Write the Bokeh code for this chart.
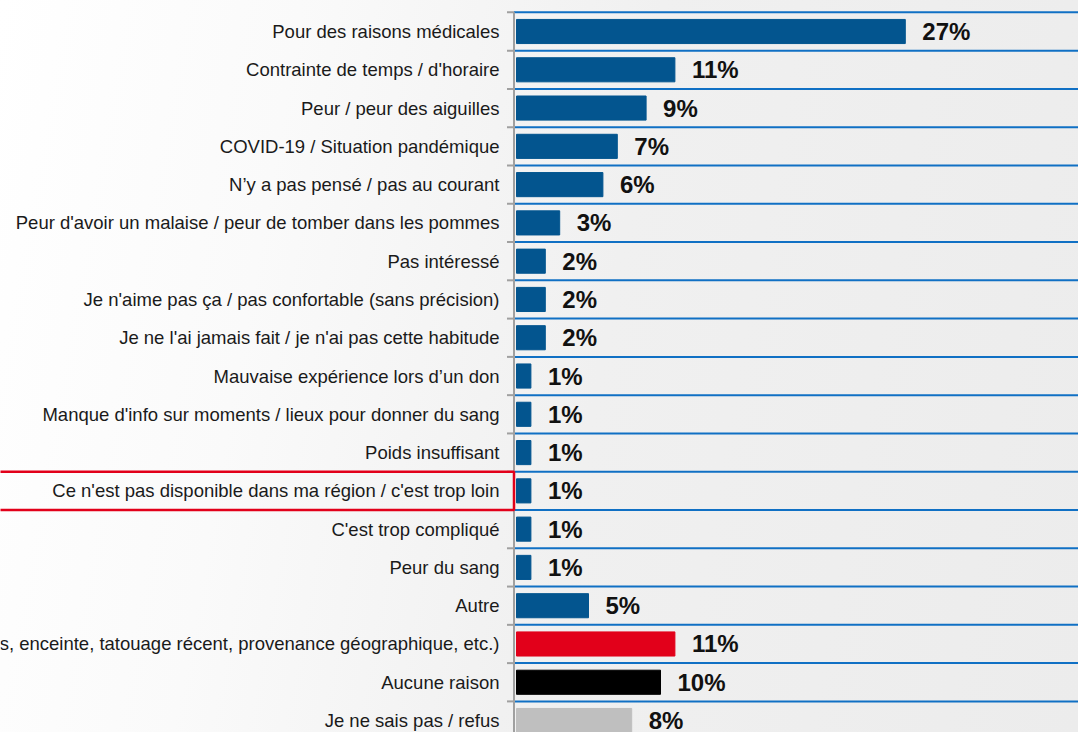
from bokeh.plotting import figure
from bokeh.models import ColumnDataSource, Range1d, InlineStyleSheet
from bokeh.core.properties import value
from bokeh.embed import file_html
from bokeh.resources import INLINE

# ---------------- data ----------------
categories = [
    "Pour des raisons médicales",
    "Contrainte de temps / d'horaire",
    "Peur / peur des aiguilles",
    "COVID-19 / Situation pandémique",
    "N\u2019y a pas pensé / pas au courant",
    "Peur d'avoir un malaise / peur de tomber dans les pommes",
    "Pas intéressé",
    "Je n'aime pas ça / pas confortable (sans précision)",
    "Je ne l'ai jamais fait / je n'ai pas cette habitude",
    "Mauvaise expérience lors d\u2019un don",
    "Manque d'info sur moments / lieux pour donner du sang",
    "Poids insuffisant",
    "Ce n'est pas disponible dans ma région / c'est trop loin",
    "C'est trop compliqué",
    "Peur du sang",
    "Autre",
    "Non admissible (médicaments, enceinte, tatouage récent, provenance géographique, etc.)",
    "Aucune raison",
    "Je ne sais pas / refus",
]
percent = [27, 11, 9, 7, 6, 3, 2, 2, 2, 1, 1, 1, 1, 1, 1, 5, 11, 10, 8]
groups = ["raison"] * 16 + ["inadmissible", "aucune", "nsp"]
highlight = "Ce n'est pas disponible dans ma région / c'est trop loin"

# ---------------- styles ----------------
group_colors = {
    "raison": "#03558f",
    "inadmissible": "#e2001a",
    "aucune": "#000000",
    "nsp": "#bfbfbf",
}
FONT = "Liberation Sans"
W, H = 1078, 732
PX_PER_UNIT = 14.4      # pixels per percentage point
PITCH = 38.28           # pixels per row
BAR_LEFT_PX = 516       # distance from canvas left to bar origin
TOP_ROW_PX = 31         # distance from canvas top to first row centre

n = len(categories)
ypos = [n - 1 - i for i in range(n)]
x_start = -BAR_LEFT_PX / PX_PER_UNIT
x_end = x_start + W / PX_PER_UNIT
y_end = (n - 1) + TOP_ROW_PX / PITCH
y_start = y_end - H / PITCH
axis_x = -2.5 / PX_PER_UNIT

src = ColumnDataSource(dict(
    y=ypos,
    cat=categories,
    val=percent,
    lab=[f"{v}%" for v in percent],
    color=[group_colors[g] for g in groups],
    zero=[0] * n,
))

p = figure(
    width=W, height=H,
    x_range=Range1d(x_start, x_end),
    y_range=Range1d(y_start, y_end),
    output_backend="svg", toolbar_location=None,
    min_border=0, min_border_left=0, min_border_right=0,
    min_border_top=0, min_border_bottom=0,
)
p.axis.visible = False
p.grid.visible = False
p.outline_line_color = None
p.background_fill_color = None
p.border_fill_color = None
p.stylesheets = [InlineStyleSheet(css=":host { background: linear-gradient(100deg, #ffffff 0%, #fafafa 25%, #f0f0f0 55%, #ececec 100%); }")]

# row separators
seps = [y + 0.5 for y in ypos] + [min(ypos) - 0.5]
p.segment(x0=[axis_x] * len(seps), x1=[x_end] * len(seps), y0=seps, y1=seps,
          line_color="#1070c4", line_width=2)

# axis line and ticks
p.segment(x0=[axis_x], x1=[axis_x], y0=[min(seps)], y1=[max(seps)],
          line_color="#a0a0a0", line_width=2)
p.segment(x0=[axis_x - 7 / PX_PER_UNIT] * len(seps), x1=[axis_x] * len(seps),
          y0=seps, y1=seps, line_color="#a0a0a0", line_width=2)

# bars
p.hbar(y="y", left="zero", right="val", height=0.63, fill_color="color",
       line_color="color", line_width=1, source=src)

# value labels
p.text(x="val", y="y", text="lab", x_offset=17, text_align="left",
       text_baseline="middle", text_font=value(FONT), text_font_size="24px",
       text_font_style="bold", text_color="#111111", source=src)

# category labels
p.text(x="zero", y="y", text="cat", x_offset=-17, text_align="right",
       text_baseline="middle", text_font=value(FONT), text_font_size="18.5px",
       text_color="#1a1a1a", source=src)

# highlight box
hy = ypos[categories.index(highlight)]
p.quad(left=[x_start - 5], right=[axis_x], bottom=[hy - 0.5], top=[hy + 0.5],
       fill_color=None, line_color="#e2001a", line_width=2.5)

open("out.html", "w").write(file_html(p, INLINE))
